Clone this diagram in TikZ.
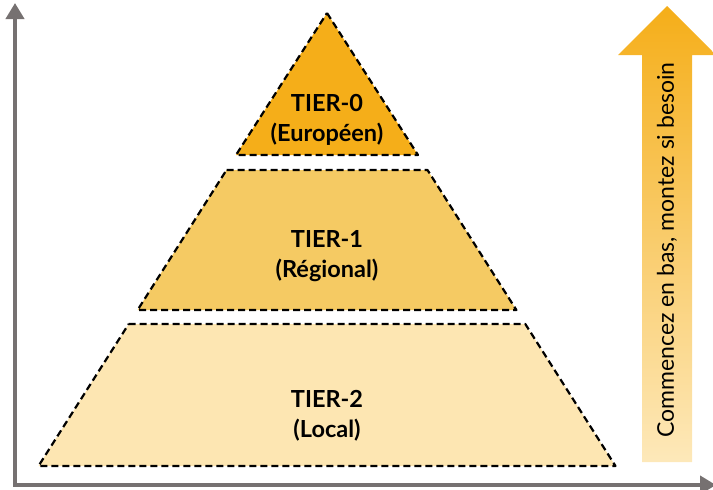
\documentclass[tikz,border=0pt]{standalone}
\usepackage{fontspec}
\setmainfont{Lato}
\usetikzlibrary{arrows.meta}

\definecolor{tier0}{HTML}{F5AE19}
\definecolor{tier1}{HTML}{F5CA63}
\definecolor{tier2}{HTML}{FDE6B2}
\definecolor{axisgray}{HTML}{767171}

\begin{document}
\begin{tikzpicture}[x=1pt,y=-1pt]
        \useasboundingbox (0,0) rectangle (713,490);

        \coordinate (o) at (15,485);
        \coordinate (ytip) at (15,3);
        \coordinate (xtip) at (716,485);

        \begin{scope}[every path/.style={draw=black,line width=2.2pt,dash pattern=on 7pt off 4pt,line join=round}]
            \path[fill=tier0] (327,13) -- (418,155) -- (236,155) -- cycle;
            \path[fill=tier1] (226.5,170) -- (427.5,170) -- (516.4,310) -- (137.6,310) -- cycle;
            \path[fill=tier2] (128.7,324) -- (525.3,324) -- (615.5,466) -- (38.5,466) -- cycle;
        \end{scope}

        \begin{scope}[every node/.style={font=\bfseries\fontsize{23.5}{28}\selectfont,align=center,anchor=base}]
            \node (t0) at (327,141) {TIER-0\\[2pt](Européen)};
            \node (t1) at (327,277) {TIER-1\\[2pt](Régional)};
            \node (t2) at (327,437) {TIER-2\\[2pt](Local)};
        \end{scope}

        \draw[axisgray,line width=4pt,{Triangle[width=18pt,length=16pt]}-{Triangle[width=18pt,length=16pt]}] (ytip) -- (o) -- (xtip);

        \shade[top color=tier0,bottom color=tier2!90!white] (642,462) -- (642,55) -- (618,55) -- (667,6) -- (716,55) -- (692,55) -- (692,462) -- cycle;
        \node[rotate=90,font=\fontsize{23}{26}\selectfont] (hint) at (667,250) {Commencez en bas, montez si besoin};
    \end{tikzpicture}
\end{document}
